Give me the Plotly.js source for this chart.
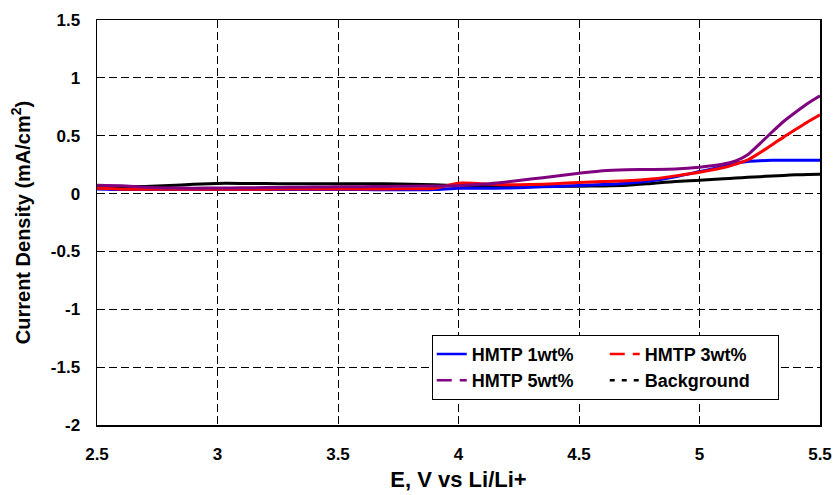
<!DOCTYPE html>
<html>
<head>
<meta charset="utf-8">
<script src="https://cdn.plot.ly/plotly-3.0.1.min.js"></script>
<style>
  html, body { margin: 0; padding: 0; background: #fff; }
  #chart { width: 835px; height: 495px; }
</style>
</head>
<body>
<div id="chart"></div>
<script>
// Potential sweep (V vs Li/Li+)
const potential = [2.5, 2.6, 2.7, 2.8, 2.9, 3.0, 3.1, 3.2, 3.3, 3.4, 3.5, 3.6, 3.7, 3.8, 3.9,
                   4.0, 4.1, 4.2, 4.3, 4.4, 4.5, 4.6, 4.7, 4.8, 4.9, 5.0, 5.1, 5.15, 5.2, 5.25,
                   5.3, 5.35, 5.4, 5.45, 5.5];

// Current density (mA/cm2) for each electrolyte
const hmtp1 = [0.040, 0.035, 0.035, 0.035, 0.035, 0.035, 0.035, 0.035, 0.035, 0.035, 0.035, 0.035, 0.033, 0.032, 0.035,
               0.045, 0.046, 0.048, 0.055, 0.062, 0.070, 0.078, 0.090, 0.110, 0.145, 0.190, 0.235, 0.262, 0.278, 0.284,
               0.287, 0.288, 0.288, 0.288, 0.288];
const hmtp3 = [0.045, 0.038, 0.037, 0.037, 0.037, 0.038, 0.038, 0.038, 0.039, 0.040, 0.040, 0.040, 0.040, 0.042, 0.045,
               0.090, 0.085, 0.076, 0.078, 0.085, 0.096, 0.105, 0.110, 0.125, 0.153, 0.185, 0.225, 0.255, 0.290, 0.352,
               0.420, 0.490, 0.555, 0.620, 0.680];
const hmtp5 = [0.072, 0.068, 0.055, 0.048, 0.047, 0.048, 0.050, 0.052, 0.055, 0.056, 0.058, 0.060, 0.062, 0.064, 0.066,
               0.068, 0.080, 0.100, 0.125, 0.150, 0.175, 0.198, 0.206, 0.208, 0.212, 0.228, 0.255, 0.282, 0.335, 0.430,
               0.530, 0.625, 0.705, 0.780, 0.845];
const background = [0.060, 0.060, 0.062, 0.070, 0.080, 0.088, 0.088, 0.086, 0.085, 0.085, 0.085, 0.085, 0.084, 0.080, 0.076,
                    0.068, 0.064, 0.062, 0.062, 0.062, 0.064, 0.066, 0.072, 0.088, 0.105, 0.115, 0.128, 0.134, 0.140, 0.146,
                    0.152, 0.157, 0.162, 0.165, 0.167];

// Axis tick values and their printed labels (plain hyphen for negatives)
const xTickVals = [2.5, 3, 3.5, 4, 4.5, 5, 5.5];
const xTickText = ['2.5', '3', '3.5', '4', '4.5', '5', '5.5'];
const yTickVals = [-2, -1.5, -1, -0.5, 0, 0.5, 1, 1.5];
const yTickText = ['-2', '-1.5', '-1', '-0.5', '0', '0.5', '1', '1.5'];

const seriesNames = ['HMTP 1wt%', 'HMTP 3wt%', 'HMTP 5wt%', 'Background'];
const seriesColors = ['#0000ff', '#ff0000', '#800080', '#000000'];
const legendDash = ['solid', '15px,8px', '15px,8px', '5px,7px'];
const legendGroups = ['a', 'b', 'a', 'b'];
const seriesValues = [hmtp1, hmtp3, hmtp5, background];

// Dense curves drawn as continuous lines; back to front: background first
const drawOrder = [3, 0, 1, 2];
const traces = drawOrder.map(i => ({
  x: potential,
  y: seriesValues[i],
  type: 'scatter',
  mode: 'lines',
  line: { color: seriesColors[i], width: 3, shape: 'spline', smoothing: 0.6 },
  showlegend: false,
  hoverinfo: 'skip'
}));

// Legend keys carry the dash style of each series
seriesNames.forEach((name, i) => {
  traces.push({
    x: [null], y: [null],
    type: 'scatter', mode: 'lines',
    name: name,
    legendgroup: legendGroups[i],
    line: { color: seriesColors[i], width: 2.5, dash: legendDash[i] }
  });
});

const gridStyle = { showgrid: true, gridcolor: '#000', gridwidth: 1, griddash: '8px,4px' };

const layout = {
  width: 835, height: 495,
  margin: { l: 97, r: 15, t: 20, b: 70 },
  paper_bgcolor: '#fff', plot_bgcolor: '#fff',
  font: { family: 'Liberation Sans, Arial, sans-serif', size: 17, color: '#000', weight: 'bold' },
  showlegend: true,
  xaxis: Object.assign({
    range: [2.5, 5.5], tickmode: 'array', tickvals: xTickVals, ticktext: xTickText,
    showline: true, mirror: true, linecolor: '#000', linewidth: 1.5,
    ticks: '', zeroline: false, ticklabelstandoff: 13,
    title: { text: 'E, V vs Li/Li+', font: { size: 22, weight: 'bold' }, standoff: 8 },
    automargin: false, fixedrange: true
  }, gridStyle),
  yaxis: Object.assign({
    range: [-2, 1.5], tickmode: 'array', tickvals: yTickVals, ticktext: yTickText,
    showline: true, mirror: true, linecolor: '#000', linewidth: 1.5,
    ticks: '', zeroline: false, ticklabelstandoff: 12,
    title: { text: 'Current Density (mA/cm<sup>2</sup>)', font: { size: 20, weight: 'bold' }, standoff: 15 },
    automargin: false, fixedrange: true
  }, gridStyle),
  legend: {
    orientation: 'h', traceorder: 'grouped', tracegroupgap: 10,
    entrywidth: 128, entrywidthmode: 'pixels',
    x: 0.463, y: 0.223, xanchor: 'left', yanchor: 'top',
    bgcolor: '#fff', bordercolor: '#000', borderwidth: 1,
    font: { size: 18, weight: 'bold' }
  }
};

Plotly.newPlot('chart', traces, layout, { displayModeBar: false, staticPlot: true });
</script>
</body>
</html>
